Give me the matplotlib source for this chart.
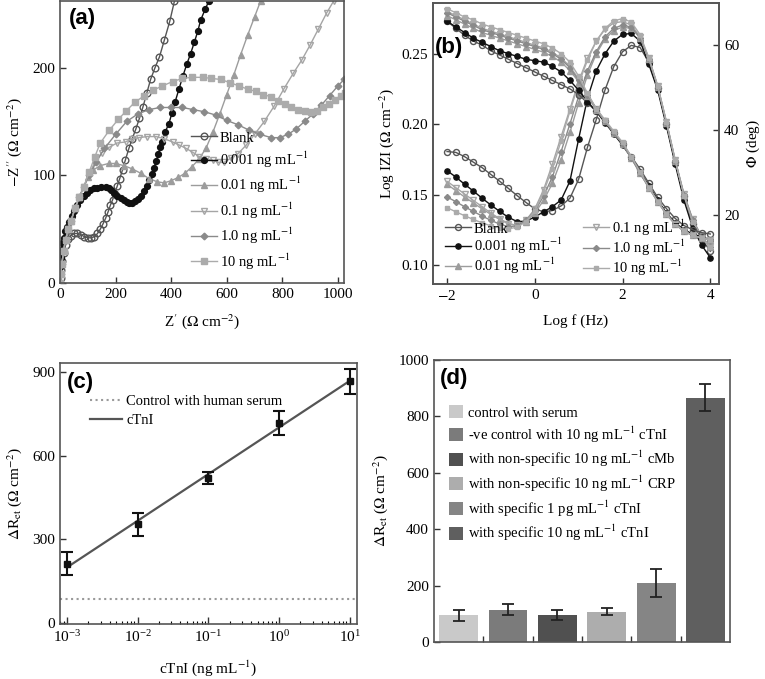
import numpy as np
import matplotlib
matplotlib.use("Agg")
from matplotlib import pyplot as plt

plt.rcParams['font.family'] = ['Liberation Serif', 'DejaVu Serif']
plt.rcParams['mathtext.fontset'] = 'stix'
plt.rcParams['axes.edgecolor'] = '#555555'
plt.rcParams['axes.linewidth'] = 1.2

# ---------------- (a) Nyquist plot ----------------
conc_labels = ['Blank', '0.001 ng mL$^{-1}$', '0.01 ng mL$^{-1}$',
               '0.1 ng mL$^{-1}$', '1.0 ng mL$^{-1}$', '10 ng mL$^{-1}$']

blank_zre = [0, 2, 5, 9, 14, 20, 28, 38, 50, 62, 75, 88, 100, 112, 124, 135, 145, 155, 164,
             173, 181, 189, 197, 206, 215, 225, 235, 248, 260, 273, 286, 298, 312, 326, 342,
             358, 376, 395, 412]
blank_zim = [0, 5, 12, 20, 28, 35, 41, 44, 46, 46, 45, 43, 42, 42, 43, 46, 50, 55, 60,
             66, 72, 77, 83, 90, 97, 105, 114, 125, 134, 143, 153, 163, 176, 189, 200,
             210, 226, 243, 262]

c0001_zre = [0, 0, 1, 2, 4, 8, 13, 19, 25, 34, 43, 52, 61, 73, 85, 97, 109, 121, 134, 149,
             164, 175, 185, 196, 206, 218, 230, 240, 250, 260, 270, 280, 292, 302, 312, 322,
             330, 338, 346, 354, 361, 368, 378, 392, 403, 414, 428, 442, 456, 470, 484, 496,
             506, 522, 536]
c0001_zim = [0, 8, 15, 23, 31, 37, 42, 48, 52, 57, 62, 67, 72, 77, 81, 84, 86, 88, 88, 89,
             89, 88, 86, 84, 81, 79, 77, 75, 74, 74, 76, 78, 81, 85, 90, 96,
             101, 107, 113, 120, 126, 131, 140, 148, 158, 168, 180, 192, 203, 213, 224, 234,
             244, 254, 262]

c001_zre = [0, 3, 7, 13, 20, 30, 40, 55, 70, 85, 100, 120, 145, 175, 200, 230, 260, 290, 320,
            350, 375, 400, 425, 450, 475, 500, 525, 550, 575, 600, 625, 650, 675, 700, 722]
c001_zim = [0, 8, 18, 30, 40, 50, 58, 70, 80, 89, 98, 105, 109, 111, 111, 109, 106, 102, 97,
            94, 93, 95, 98, 102, 108, 115, 125, 140, 157, 175, 193, 212, 230, 247, 262]

c01_zre = [0, 3, 7, 13, 20, 30, 40, 55, 70, 85, 105, 125, 150, 177, 205, 236, 260, 285, 314,
           345, 375, 405, 430, 454, 480, 502, 525, 549, 570, 590, 615, 640, 670, 700, 735,
           770, 805, 840, 870, 900, 930, 960, 985]
c01_zim = [0, 8, 18, 30, 40, 50, 58, 70, 80, 89, 101, 112, 121, 126, 130, 131, 134, 135, 136,
           136, 134, 131, 128, 125, 121, 117, 115, 114, 112, 112, 116, 120, 128, 138, 150,
           164, 180, 195, 207, 221, 236, 251, 262]

c1_zre = [0, 3, 7, 13, 20, 30, 40, 55, 70, 85, 105, 130, 160, 200, 240, 280, 320, 360, 400,
          440, 480, 520, 560, 600, 640, 680, 720, 760, 790, 820, 850, 880, 910, 940, 970,
          1000, 1022]
c1_zim = [0, 8, 18, 30, 40, 50, 58, 70, 80, 89, 100, 112, 125, 138, 150, 157, 161, 163, 163,
          163, 161, 159, 156, 151, 147, 142, 138, 135, 135, 138, 143, 150, 157, 165, 174,
          183, 189]

c10_zre = [0, 3, 7, 13, 20, 30, 40, 55, 70, 85, 105, 125, 145, 178, 210, 239, 270, 304, 335,
           368, 405, 440, 475, 513, 545, 579, 612, 645, 675, 705, 732, 759, 785, 810, 833,
           856, 880, 904, 925, 946, 968, 988, 1010, 1024]
c10_zim = [0, 8, 18, 30, 40, 50, 58, 70, 80, 89, 103, 117, 130, 142, 152, 160, 168, 174, 179,
           183, 187, 190, 191, 191, 190, 189, 186, 183, 180, 178, 175, 173, 169, 166, 163,
           161, 160, 159, 160, 163, 166, 170, 174, 176]

# ---------------- (b) Bode plot ----------------
logf = [-2.0, -1.8, -1.6, -1.4, -1.2, -1.0, -0.8, -0.6, -0.4, -0.2, 0.0, 0.2, 0.4, 0.6, 0.8,
        1.0, 1.2, 1.4, 1.6, 1.8, 2.0, 2.2, 2.4, 2.6, 2.8, 3.0, 3.2, 3.4, 3.6, 3.8, 4.0]

logz_blank = [0.273, 0.268, 0.263, 0.259, 0.256, 0.252, 0.249, 0.246, 0.243, 0.240, 0.237,
              0.234, 0.231, 0.228, 0.225, 0.221, 0.215, 0.209, 0.202, 0.194, 0.186, 0.177,
              0.168, 0.158, 0.148, 0.140, 0.133, 0.128, 0.125, 0.123, 0.122]
logz_0001 = [0.273, 0.269, 0.265, 0.261, 0.258, 0.255, 0.252, 0.250, 0.248, 0.246, 0.245,
             0.244, 0.241, 0.237, 0.231, 0.224, 0.216, 0.209, 0.201, 0.193, 0.185, 0.176,
             0.166, 0.156, 0.146, 0.137, 0.130, 0.125, 0.122, 0.120, 0.118]
logz_001 = [0.277, 0.274, 0.271, 0.268, 0.265, 0.263, 0.261, 0.259, 0.257, 0.255, 0.253,
            0.251, 0.248, 0.244, 0.238, 0.230, 0.220, 0.210, 0.202, 0.194, 0.186, 0.176,
            0.165, 0.155, 0.145, 0.136, 0.129, 0.124, 0.121, 0.119, 0.118]
logz_01 = [0.280, 0.277, 0.274, 0.271, 0.268, 0.266, 0.264, 0.262, 0.260, 0.258, 0.256,
           0.254, 0.251, 0.247, 0.241, 0.232, 0.221, 0.211, 0.202, 0.194, 0.186, 0.176,
           0.165, 0.155, 0.145, 0.136, 0.129, 0.124, 0.121, 0.119, 0.118]
logz_1 = [0.279, 0.276, 0.273, 0.270, 0.267, 0.265, 0.263, 0.261, 0.259, 0.257, 0.255,
          0.253, 0.250, 0.246, 0.240, 0.231, 0.221, 0.211, 0.202, 0.194, 0.186, 0.176,
          0.165, 0.155, 0.145, 0.136, 0.129, 0.124, 0.121, 0.119, 0.118]
logz_10 = [0.282, 0.279, 0.276, 0.274, 0.271, 0.269, 0.267, 0.265, 0.263, 0.261, 0.259,
           0.257, 0.254, 0.250, 0.244, 0.234, 0.222, 0.211, 0.203, 0.195, 0.187, 0.177,
           0.166, 0.155, 0.145, 0.136, 0.129, 0.124, 0.121, 0.119, 0.118]

phase_blank = [35.0, 34.8, 33.8, 32.5, 31.2, 29.6, 28.0, 26.3, 24.6, 23.0, 21.5, 20.8, 21.1,
               22.2, 24.0, 28.5, 36.0, 42.5, 49.5, 55.0, 58.5, 60.0, 59.5, 56.0, 50.0, 41.5,
               32.5, 24.5, 18.0, 14.5, 11.5]
phase_0001 = [30.5, 29.0, 27.3, 25.7, 24.0, 22.4, 20.9, 19.5, 18.5, 18.6, 19.6, 20.8, 22.0,
              23.6, 28.0, 38.0, 47.5, 54.0, 58.0, 61.0, 62.6, 62.8, 61.0, 55.5, 49.5, 41.0,
              32.0, 23.5, 17.0, 13.0, 10.0]
phase_001 = [27.3, 25.8, 24.3, 22.9, 21.5, 20.2, 19.0, 18.0, 17.6, 18.5, 20.5, 23.5, 27.5,
             33.0, 39.5, 46.5, 53.0, 58.0, 61.5, 63.5, 64.3, 64.0, 61.8, 56.8, 50.3, 41.8,
             32.8, 24.8, 18.8, 15.0, 12.5]
phase_01 = [28.0, 26.5, 25.0, 23.5, 22.0, 20.5, 19.2, 18.0, 17.6, 18.8, 21.5, 26.0, 32.0,
            38.5, 45.0, 51.5, 57.0, 61.0, 63.8, 65.3, 65.6, 64.8, 62.0, 57.0, 50.5, 42.0,
            33.0, 25.0, 19.0, 15.0, 12.5]
phase_1 = [24.3, 23.2, 22.0, 20.9, 19.8, 18.8, 17.9, 17.3, 17.5, 18.8, 21.0, 24.5, 29.0,
           35.0, 41.5, 48.0, 54.0, 58.5, 62.0, 64.0, 64.8, 64.3, 61.8, 56.8, 50.3, 41.8,
           32.8, 24.8, 18.8, 15.0, 12.5]
phase_10 = [21.8, 20.8, 19.9, 19.0, 18.2, 17.5, 17.0, 16.8, 17.2, 18.5, 21.0, 25.5, 31.0,
            37.5, 44.5, 51.0, 56.5, 61.0, 64.0, 65.8, 66.3, 65.5, 62.5, 57.0, 50.5, 42.0,
            33.0, 24.5, 18.5, 15.0, 12.5]

# ---------------- (c) calibration ----------------
ctni_conc = [1e-3, 1e-2, 1e-1, 1e0, 1e1]
ctni_dret = [213, 354, 520, 716, 867]
ctni_err = [42, 42, 20, 43, 45]
control_serum = 85

# ---------------- (d) selectivity ----------------
bar_labels = ['control with serum',
              '-ve control with 10 ng mL$^{-1}$ cTnI',
              'with non-specific 10 ng mL$^{-1}$ cMb',
              'with non-specific 10 ng mL$^{-1}$ CRP',
              'with specific 1 pg mL$^{-1}$ cTnI',
              'with specific 10 ng mL$^{-1}$ cTnI']
bar_values = [95, 114, 96, 108, 209, 866]
bar_errors = [19, 19, 19, 13, 49, 48]
bar_colors = ['#c9c9c9', '#7b7b7b', '#505050', '#adadad', '#858585', '#5f5f5f']

styles = [dict(marker='o', color='#555555', mfc='none', ms=4.8),
          dict(marker='o', color='#111111', ms=4.2),
          dict(marker='^', color='#9c9c9c', ms=4.3),
          dict(marker='v', color='#a5a5a5', mfc='none', ms=4.8),
          dict(marker='D', color='#8a8a8a', ms=3.4),
          dict(marker='s', color='#ababab', ms=3.8)]

fig = plt.figure(figsize=(7.65, 6.79), dpi=100)

ax_a = fig.add_axes([0.0784, 0.5832, 0.3713, 0.4155])
ax_b = fig.add_axes([0.566, 0.5817, 0.374, 0.414])
ax_c = fig.add_axes([0.0784, 0.081, 0.388, 0.3844])
ax_d = fig.add_axes([0.5673, 0.0545, 0.387, 0.4153])

tick_kw = dict(direction='in', labelsize=11, length=4, width=1, colors='#333333', labelcolor='black')

# (a)
nyq = [(blank_zre, blank_zim), (c0001_zre, c0001_zim), (c001_zre, c001_zim),
       (c01_zre, c01_zim), (c1_zre, c1_zim), (c10_zre, c10_zim)]
for (zre, zim), st, lab in zip(nyq, styles, conc_labels):
    ax_a.plot(zre, zim, lw=1.0, label=lab, **st)
ax_a.set_xlim(0, 1022)
ax_a.set_ylim(0, 262)
ax_a.set_xticks([0, 200, 400, 600, 800, 1000])
ax_a.set_yticks([0, 100, 200])
ax_a.tick_params(**tick_kw)
ax_a.set_xlabel("Z$'$ ($\\Omega$ cm$^{-2}$)", fontsize=11, labelpad=8)
ax_a.set_ylabel("$-$Z$''$ ($\\Omega$ cm$^{-2}$)", fontsize=11, labelpad=6)
ax_a.text(0.03, 0.975, '(a)', transform=ax_a.transAxes, fontsize=16, fontweight='bold',
          family='Liberation Sans', va='top')
ax_a.legend(loc='lower left', bbox_to_anchor=(0.44, 0.02), frameon=False, fontsize=10.5,
            handlelength=1.8, handletextpad=0.2, labelspacing=0.35, borderaxespad=0)

# (b)
ax_b2 = ax_b.twinx()
logz_all = [logz_blank, logz_0001, logz_001, logz_01, logz_1, logz_10]
phase_all = [phase_blank, phase_0001, phase_001, phase_01, phase_1, phase_10]
handles = []
for lz, ph, st, lab in zip(logz_all, phase_all, styles, conc_labels):
    st_b = dict(st)
    st_b['ms'] = st['ms'] * 0.9
    h, = ax_b.plot(logf, lz, lw=1.0, label=lab, **st_b)
    ax_b2.plot(logf, ph, lw=1.0, **st_b)
    handles.append(h)
ax_b.set_xlim(-2.32, 4.2)
ax_b.set_ylim(0.0865, 0.286)
ax_b2.set_ylim(3.8, 70)
ax_b.set_xticks([-2, 0, 2, 4])
ax_b.set_xticklabels(['$-$2', '0', '2', '4'])
ax_b.set_yticks([0.10, 0.15, 0.20, 0.25])
ax_b.set_yticklabels(['0.10', '0.15', '0.20', '0.25'])
ax_b2.set_yticks([20, 40, 60])
ax_b.tick_params(**tick_kw)
ax_b2.tick_params(**tick_kw)
ax_b.set_xlabel('Log f (Hz)', fontsize=11, labelpad=8)
ax_b.set_ylabel('Log IZI ($\\Omega$ cm$^{-2}$)', fontsize=11, labelpad=4)
ax_b2.set_ylabel('$\\Phi$ (deg)', fontsize=11, labelpad=4)
ax_b.text(0.008, 0.88, '(b)', transform=ax_b.transAxes, fontsize=16, fontweight='bold',
          family='Liberation Sans', va='top')
ax_b.legend(handles=handles, loc='lower left', bbox_to_anchor=(0.02, 0.0), ncol=2,
            frameon=False, fontsize=10.5, handlelength=1.8, handletextpad=0.2,
            labelspacing=0.0, columnspacing=1.4, borderaxespad=0)
ax_b.set_zorder(ax_b2.get_zorder() + 1)
ax_b.patch.set_visible(False)

# (c)
slope, intercept = np.polyfit(np.log10(ctni_conc), ctni_dret, 1)
fit_x = np.array([ctni_conc[0], ctni_conc[-1]])
ax_c.axhline(control_serum, color='#9a9a9a', ls=':', lw=1.5, label='Control with human serum')
ax_c.plot(fit_x, slope * np.log10(fit_x) + intercept, color='#555555', lw=1.6, label='cTnI')
ax_c.errorbar(ctni_conc, ctni_dret, yerr=ctni_err, fmt='s', color='#111111', ms=4.5,
              ecolor='#111111', elinewidth=1.5, capsize=4, capthick=1.5)
ax_c.set_xscale('log')
ax_c.set_xlim(10 ** -3.1, 10 ** 1.1)
ax_c.set_ylim(-3, 932)
ax_c.set_yticks([0, 300, 600, 900])
ax_c.tick_params(**tick_kw)
ax_c.tick_params(axis='x', which='minor', direction='in', length=2.5, width=0.8)
ax_c.tick_params(axis='x', which='major', length=5)
ax_c.set_xlabel('cTnI (ng mL$^{-1}$)', fontsize=11, labelpad=10)
ax_c.set_ylabel('$\\Delta$R$_{\\rm et}$ ($\\Omega$ cm$^{-2}$)', fontsize=11, labelpad=6)
ax_c.text(0.024, 0.965, '(c)', transform=ax_c.transAxes, fontsize=16, fontweight='bold',
          family='Liberation Sans', va='top')
ax_c.legend(loc='upper left', bbox_to_anchor=(0.08, 0.9), frameon=False, fontsize=10.5,
            handlelength=2.2, handletextpad=0.3, labelspacing=0.4, borderaxespad=0)

# (d)
xpos = np.arange(len(bar_values))
ax_d.bar(xpos, bar_values, width=0.79, color=bar_colors, label=bar_labels)
ax_d.errorbar(xpos, bar_values, yerr=bar_errors, fmt='none', ecolor='#222222',
              elinewidth=1.3, capsize=4, capthick=1.3)
ax_d.set_xlim(-0.5, len(bar_values) - 0.5)
ax_d.set_ylim(0, 1000)
ax_d.set_xticks(xpos[:-1] + 0.5)
ax_d.set_xticklabels([])
ax_d.set_yticks([0, 200, 400, 600, 800, 1000])
ax_d.tick_params(**tick_kw)
ax_d.set_ylabel('$\\Delta$R$_{\\rm et}$ ($\\Omega$ cm$^{-2}$)', fontsize=11, labelpad=6)
ax_d.text(0.02, 0.97, '(d)', transform=ax_d.transAxes, fontsize=16, fontweight='bold',
          family='Liberation Sans', va='top')
ax_d.legend(loc='upper left', bbox_to_anchor=(0.03, 0.86), frameon=False, fontsize=10.5,
            handlelength=1.0, handleheight=1.0, handletextpad=0.3, labelspacing=0.3,
            borderaxespad=0)

fig.savefig('out.png', dpi=100)
